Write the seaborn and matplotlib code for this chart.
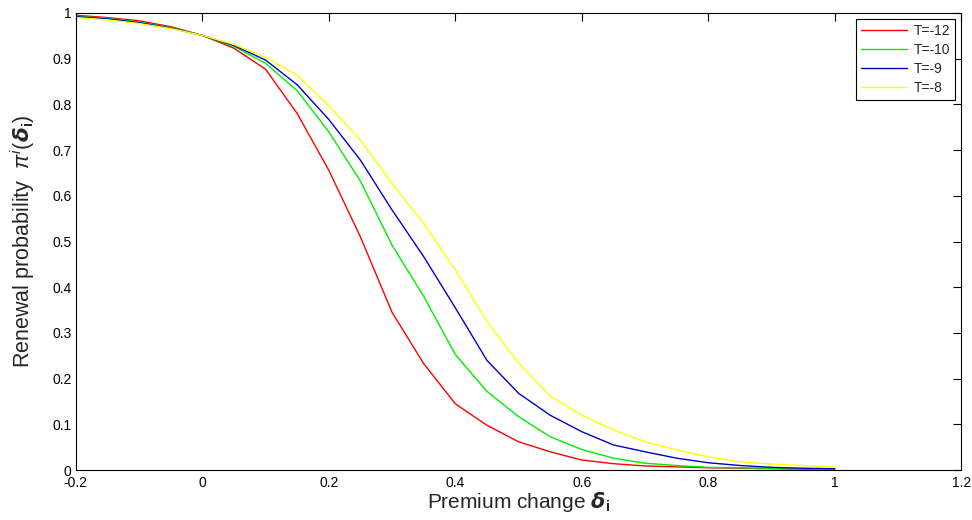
import numpy as np
import pandas as pd
import matplotlib
matplotlib.use("Agg")
import matplotlib.pyplot as plt
import seaborn as sns

# ---- data ----
x_vals = [-0.2, -0.15, -0.1, -0.05, 0.0, 0.05, 0.1, 0.15, 0.2, 0.25, 0.3, 0.35,
          0.4, 0.45, 0.5, 0.55, 0.6, 0.65, 0.7, 0.75, 0.8, 0.85, 0.9, 0.95, 1.0]
t_m12 = [0.995, 0.990, 0.983, 0.970, 0.951, 0.923, 0.877, 0.780, 0.656, 0.510,
         0.345, 0.233, 0.145, 0.098, 0.062, 0.040, 0.022, 0.014, 0.009, 0.007,
         0.005, 0.004, 0.003, 0.002, 0.002]
t_m10 = [0.993, 0.988, 0.980, 0.968, 0.951, 0.927, 0.890, 0.830, 0.740, 0.632,
         0.492, 0.380, 0.253, 0.172, 0.117, 0.073, 0.045, 0.026, 0.015, 0.010,
         0.006, 0.005, 0.004, 0.003, 0.002]
t_m9 = [0.992, 0.987, 0.979, 0.967, 0.951, 0.929, 0.897, 0.843, 0.767, 0.678,
        0.569, 0.467, 0.355, 0.240, 0.168, 0.120, 0.084, 0.055, 0.040, 0.026,
        0.016, 0.010, 0.006, 0.004, 0.003]
t_m8 = [0.990, 0.985, 0.977, 0.966, 0.951, 0.931, 0.903, 0.864, 0.797, 0.722,
        0.627, 0.540, 0.438, 0.325, 0.234, 0.162, 0.120, 0.088, 0.062, 0.044,
        0.029, 0.018, 0.013, 0.010, 0.007]
series_names = ["T=-12", "T=-10", "T=-9", "T=-8"]
series_vals = [t_m12, t_m10, t_m9, t_m8]
colors = ["#ff0000", "#00ee00", "#0000cc", "#ffff00"]

x_ticks = [-0.2, 0, 0.2, 0.4, 0.6, 0.8, 1, 1.2]
x_ticklabels = ["-0.2", "0", "0.2", "0.4", "0.6", "0.8", "1", "1.2"]
y_ticks = [0, 0.1, 0.2, 0.3, 0.4, 0.5, 0.6, 0.7, 0.8, 0.9, 1]
y_ticklabels = ["0", "0.1", "0.2", "0.3", "0.4", "0.5", "0.6", "0.7", "0.8", "0.9", "1"]

rows = []
for name, vals in zip(series_names, series_vals):
    for xv, yv in zip(x_vals, vals):
        rows.append({"x": xv, "y": yv, "series": name})
df = pd.DataFrame(rows)

sns.set_style("white")
plt.rcParams["font.family"] = ["Liberation Sans", "DejaVu Sans"]
plt.rcParams["mathtext.fontset"] = "custom"
plt.rcParams["mathtext.rm"] = "Liberation Sans"
plt.rcParams["mathtext.it"] = "Liberation Sans:italic"
plt.rcParams["mathtext.bf"] = "Liberation Sans:bold"

fig = plt.figure(figsize=(9.72, 5.2), dpi=100)
ax = fig.add_axes([0.078, 0.096, 0.911, 0.879])

sns.lineplot(data=df, x="x", y="y", hue="series", hue_order=series_names,
             palette=dict(zip(series_names, colors)), linewidth=1.0,
             estimator=None, sort=True, ax=ax)

ax.set_xlim(-0.2, 1.2)
ax.set_ylim(0, 1)
ax.set_xticks(x_ticks)
ax.set_xticklabels(x_ticklabels)
ax.set_yticks(y_ticks)
ax.set_yticklabels(y_ticklabels)
ax.tick_params(direction="in", length=6, width=0.8, top=True, right=True,
               labelsize=10, colors="black", pad=3)
ax.tick_params(axis="x", pad=4)
for s in ax.spines.values():
    s.set_visible(True)
    s.set_color("black")
    s.set_linewidth(0.8)

ax.set_xlabel(r"Premium change $\boldsymbol{\delta}_{\mathbf{i}}$", fontsize=15, labelpad=0)
ax.set_ylabel(r"Renewal probability  $\pi^{i}(\boldsymbol{\delta}_{\mathbf{i}})$", fontsize=15.5, labelpad=11)

leg = ax.legend(loc="upper right", fontsize=10, frameon=True, fancybox=False,
                edgecolor="black", handlelength=3.3, borderaxespad=0.45,
                labelspacing=0.35, borderpad=0.35, handletextpad=0.5)
leg.get_frame().set_linewidth(0.8)
leg.get_frame().set_alpha(1)

fig.savefig("out.png", dpi=100)
